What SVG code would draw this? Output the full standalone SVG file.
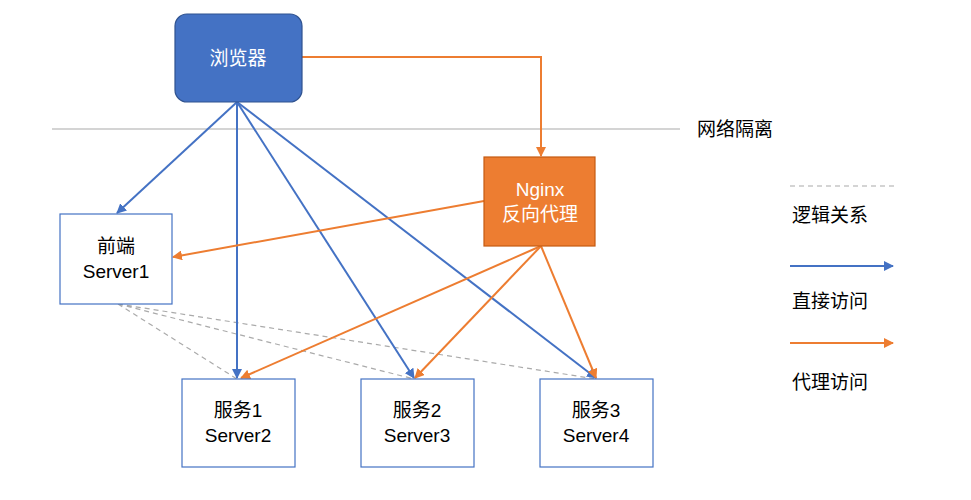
<svg xmlns="http://www.w3.org/2000/svg" width="971" height="500" viewBox="0 0 971 500">
<style>
text{font-family:"Liberation Sans","Noto Sans CJK SC",sans-serif;font-size:19px;text-anchor:middle;fill:#000}
.w{fill:#fff}
.srv{fill:#fff;stroke:#4472C4;stroke-width:1.2}
.b{stroke:#4472C4;stroke-width:2;fill:none;marker-end:url(#ab)}
.o{stroke:#ED7D31;stroke-width:2;fill:none;marker-end:url(#ao)}
.d{stroke:#aaa;stroke-width:1.2;stroke-dasharray:5,4;fill:none}
</style>
<defs>
<marker id="ab" viewBox="0 0 10 10" refX="9" refY="5" markerWidth="5" markerHeight="5" orient="auto"><path d="M0,0L10,5L0,10z" fill="#4472C4"/></marker>
<marker id="ao" viewBox="0 0 10 10" refX="9" refY="5" markerWidth="5" markerHeight="5" orient="auto"><path d="M0,0L10,5L0,10z" fill="#ED7D31"/></marker>
</defs>
<line x1="52" y1="129" x2="680" y2="129" stroke="#aaa" stroke-width="1.2"/>
<text x="735" y="136">网络隔离</text>
<g id="connectors">
<path class="d" d="M118,304L237,379M118,304L414,379M118,304L596,379"/>
<path class="o" d="M302,57H541V156"/>
<path class="b" d="M237,102L117,213"/>
<path class="b" d="M237,102L237,378"/>
<path class="b" d="M237,102L414,378"/>
<path class="b" d="M237,102L596,378"/>
<path class="o" d="M484,201L173,257"/>
<path class="o" d="M541,246L241,378"/>
<path class="o" d="M541,246L415,378"/>
<path class="o" d="M541,246L596,378"/>
</g>
<g id="browser"><rect x="175" y="14" width="127" height="88" rx="12" fill="#4472C4" stroke="#2F528F" stroke-width="1.2"/><text class="w" x="238" y="65">浏览器</text></g>
<g id="nginx"><rect x="484" y="157" width="111" height="89" fill="#ED7D31" stroke="#C55A11" stroke-width="1.2"/><text class="w" x="540" y="196">Nginx</text><text class="w" x="540" y="221">反向代理</text></g>
<g id="server1"><rect class="srv" x="60" y="214" width="112" height="90"/><text x="116" y="253">前端</text><text x="116" y="278">Server1</text></g>
<g id="server2"><rect class="srv" x="182" y="379" width="113" height="88"/><text x="238" y="417">服务1</text><text x="238" y="442">Server2</text></g>
<g id="server3"><rect class="srv" x="361" y="379" width="113" height="88"/><text x="417" y="417">服务2</text><text x="417" y="442">Server3</text></g>
<g id="server4"><rect class="srv" x="540" y="379" width="113" height="88"/><text x="596" y="417">服务3</text><text x="596" y="442">Server4</text></g>
<g id="legend">
<line class="d" x1="790" y1="186" x2="896" y2="186"/>
<text x="830" y="222">逻辑关系</text>
<line class="b" x1="790" y1="266" x2="893" y2="266"/>
<text x="830" y="308">直接访问</text>
<line class="o" x1="790" y1="343" x2="893" y2="343"/>
<text x="830" y="389">代理访问</text>
</g>
</svg>
